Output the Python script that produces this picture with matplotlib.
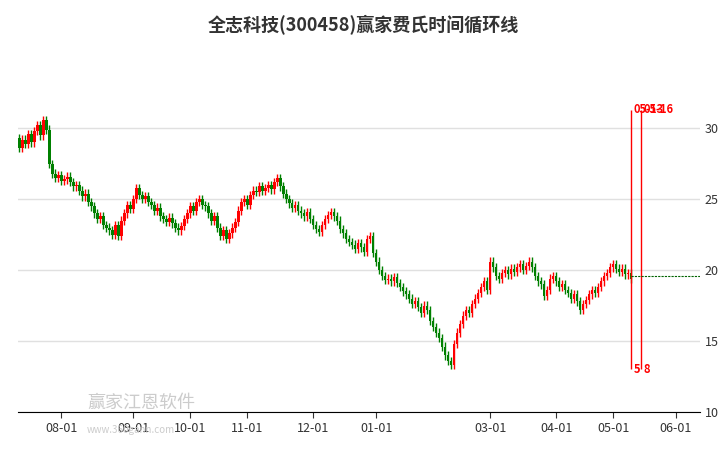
import numpy as np
import matplotlib
matplotlib.use('Agg')
import matplotlib.pyplot as plt

plt.rcParams['font.family'] = ['Noto Sans CJK SC', 'DejaVu Sans']

closes = [
    28.6, 29.2, 28.9, 29.6, 29.0, 29.8, 30.2, 29.5, 30.6, 29.9,
    27.5, 26.8, 26.5, 26.7, 26.3, 26.4, 26.6, 26.2, 25.9, 26.0,
    25.6, 25.2, 25.4, 24.8, 24.5, 24.0, 23.6, 23.8, 23.2, 23.0,
    22.8, 22.5, 23.2, 22.4, 23.5, 24.0, 24.6, 24.3, 25.0, 25.8,
    25.3, 25.0, 25.2, 24.8, 24.6, 24.2, 24.4, 23.8, 23.6, 23.4,
    23.7, 23.3, 23.0, 22.8, 23.1, 23.6, 24.0, 24.5, 24.2, 24.8,
    25.0, 24.6, 24.5, 24.0, 23.5, 23.8, 23.0, 22.4, 22.8, 22.2,
    22.6, 23.0, 23.4, 24.2, 24.8, 25.0, 24.6, 25.3, 25.6, 25.5,
    25.9, 25.6, 25.8, 26.0, 25.7, 26.2, 26.5, 25.9, 25.4, 25.0,
    24.7, 24.4, 24.6, 24.2, 24.0, 23.8, 24.1, 23.6, 23.2, 22.9,
    22.7, 23.2, 23.6, 23.9, 24.1, 23.8, 23.5, 22.9, 22.6, 22.2,
    22.0, 21.8, 21.5, 21.9, 21.6, 21.3, 22.2, 22.4, 21.2, 20.6,
    20.0, 19.6, 19.3, 19.4, 19.2, 19.5, 19.1, 18.8, 18.5, 18.3,
    18.0, 17.6, 17.8, 17.4, 17.0, 17.5, 17.2, 16.4, 16.0, 15.6,
    15.2, 14.6, 14.0, 13.6, 13.3, 14.8, 15.6, 16.2, 16.8, 17.2,
    17.0, 17.6, 18.0, 18.4, 18.8, 19.2, 18.6, 20.6, 20.2, 19.6,
    19.4, 19.8, 20.0, 19.7, 20.1, 19.9, 20.2, 20.4, 20.0, 20.3,
    20.6, 20.2, 19.6, 19.2, 19.0, 18.2, 18.6, 19.4, 19.6, 19.2,
    18.8, 19.0, 18.6, 18.4, 18.0, 18.3, 17.8, 17.2, 17.6, 17.9,
    18.3, 18.6, 18.4, 18.8, 19.2, 19.6, 19.8, 20.2, 20.4, 20.1,
    19.9, 20.1, 19.7, 19.8, 19.4,
]
first_open = 29.3
tick_idx = [14, 38, 57, 76, 98, 119, 157, 179, 198, 219]
tick_labels = ['08-01', '09-01', '10-01', '11-01', '12-01', '01-01',
               '03-01', '04-01', '05-01', '06-01']
cycle_lines = [204, 207.3]
cycle_top = ['05-13', '05-16']
cycle_bottom = ['5', '8']
last_price = 19.6

opens = [first_open] + closes[:-1]

fig = plt.figure(figsize=(7.26, 4.5), dpi=100)
ax = fig.add_axes([18 / 726, 38 / 450, 682 / 726, 322 / 450])

for i, (o, c) in enumerate(zip(opens, closes)):
    col = '#ff0000' if c >= o else '#008000'
    lo, hi = min(o, c), max(o, c)
    ax.vlines(i, lo - 0.3, hi + 0.3, color=col, lw=1)
    ax.bar(i, max(hi - lo, 0.08), bottom=lo, width=0.8, color=col)

for x, t, b in zip(cycle_lines, cycle_top, cycle_bottom):
    ax.vlines(x, 13.0, 31.3, color='#ff0000', lw=1)
    ax.text(x + 0.8, 31.3, t, color='#ff0000', fontsize=8, fontweight='bold', va='center')
    ax.text(x + 0.8, 13.0, b, color='#ff0000', fontsize=8, fontweight='bold', va='center')

ax.hlines(last_price, 204, 227, color='#006400', lw=0.8, ls=(0, (2, 1)))

ax.set_xlim(-0.5, 227)
ax.set_ylim(10, 32.7)
ax.set_yticks([10, 15, 20, 25, 30])
ax.yaxis.tick_right()
ax.grid(axis='y', color='#e0e0e0', lw=1)
ax.set_axisbelow(True)
ax.set_xticks(tick_idx)
ax.set_xticklabels(tick_labels)
ax.tick_params(axis='y', length=0, labelsize=9, colors='#333333')
ax.tick_params(axis='x', labelsize=9, colors='#333333', length=4)
for s in ['top', 'right', 'left']:
    ax.spines[s].set_visible(False)

fig.text(0.5, 0.945, '全志科技(300458)赢家费氏时间循环线', ha='center', va='center',
         fontsize=13, fontweight='bold', color='#333333')
fig.text(0.12, 0.105, '赢家江恩软件', fontsize=13, color='#cccccc', va='center')
fig.text(0.12, 0.045, 'www.360gann.com', fontsize=7, color='#cccccc', va='center')

fig.savefig('out.png')
